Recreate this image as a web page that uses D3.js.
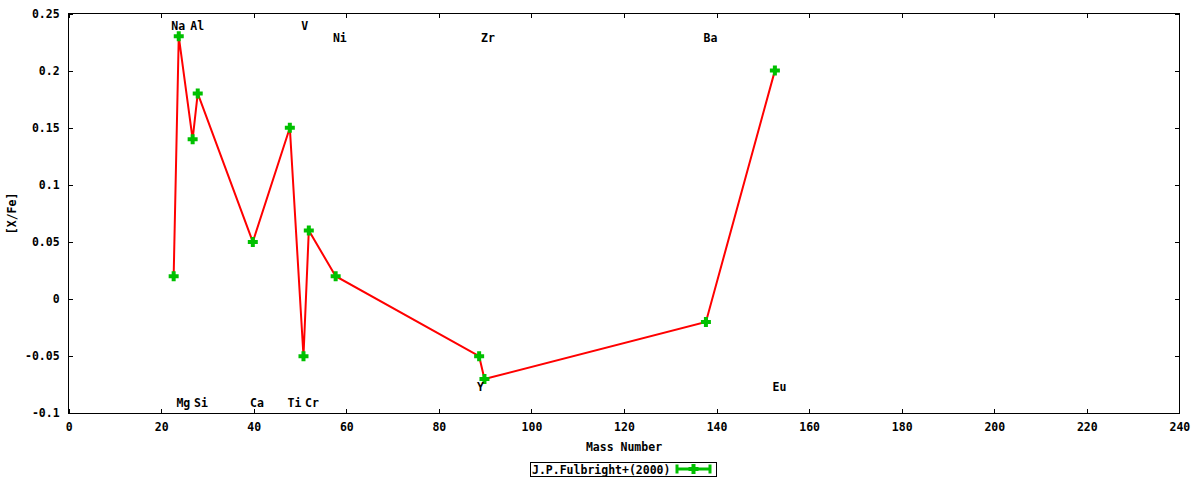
<!DOCTYPE html>
<html>
<head>
<meta charset="utf-8">
<script src="https://cdnjs.cloudflare.com/ajax/libs/d3/7.8.5/d3.min.js"></script>
<style>
  body { margin: 0; background: #fff; }
  svg text { font-family: "DejaVu Sans Mono", "Liberation Mono", monospace; font-weight: bold; font-size: 11.5px; fill: #000; }
</style>
</head>
<body>
<svg id="chart" width="1200" height="480"></svg>
<script>
// abundance points, in plotting order
var masses = [22.7, 23.8, 26.8, 27.9, 39.8, 47.8, 50.75, 51.9, 57.7, 88.7, 89.85, 137.7, 152.6]
var xfe    = [0.02, 0.23, 0.14, 0.18, 0.05, 0.15, -0.05, 0.06, 0.02, -0.05, -0.07, -0.02, 0.20]

// element labels (text, x in mass units, y in [X/Fe] units)
var elements = ['Na', 'Al', 'V', 'Ni', 'Zr', 'Ba', 'Mg', 'Si', 'Ca', 'Ti', 'Cr', 'Y', 'Eu']
var label_x  = [23.7, 27.8, 51.0, 58.6, 90.6, 138.7, 24.8, 28.6, 40.7, 48.8, 52.6, 89.0, 153.6]
var label_y  = [0.239, 0.239, 0.239, 0.2285, 0.2285, 0.2285, -0.091, -0.091, -0.091, -0.091, -0.091, -0.077, -0.077]

var x_ticks = [0, 20, 40, 60, 80, 100, 120, 140, 160, 180, 200, 220, 240]
var y_ticks = [-0.1, -0.05, 0, 0.05, 0.1, 0.15, 0.2, 0.25]
var y_tick_labels = ['-0.1', '-0.05', '0', '0.05', '0.1', '0.15', '0.2', '0.25']

var series_name = 'J.P.Fulbright+(2000)'

var svg = d3.select('#chart')
var margin = {'top': 13.5, 'right': 20.6, 'bottom': 66.7, 'left': 68.6}
var active_width = 1200 - margin.left - margin.right
var active_height = 480 - margin.top - margin.bottom

var g = svg.append('g')
	.attr('transform', 'translate(' + margin.left + ',' + margin.top + ')')

var xscale = d3.scaleLinear().domain([0, 240]).range([0, active_width])
var yscale = d3.scaleLinear().domain([-0.1, 0.25]).range([active_height, 0])

function style_axis(sel) {
	sel.select('.domain').remove()
	sel.selectAll('line').attr('stroke', '#000').attr('shape-rendering', 'crispEdges')
	sel.selectAll('text').attr('fill', '#000')
}

// bottom + top
g.append('g')
	.attr('transform', 'translate(0,' + active_height + ')')
	.call(d3.axisBottom(xscale).tickValues(x_ticks).tickFormat(d3.format('d')).tickSizeInner(-4).tickSizeOuter(0).tickPadding(10))
	.call(style_axis)
	.selectAll('text').attr('font-size', null)
g.append('g')
	.call(d3.axisTop(xscale).tickValues(x_ticks).tickFormat('').tickSizeInner(-4).tickSizeOuter(0))
	.call(style_axis)

// left + right
g.append('g')
	.call(d3.axisLeft(yscale).tickValues(y_ticks).tickFormat(function(d, i) { return y_tick_labels[i] }).tickSizeInner(-4).tickSizeOuter(0).tickPadding(9))
	.call(style_axis)
g.append('g')
	.attr('transform', 'translate(' + active_width + ',0)')
	.call(d3.axisRight(yscale).tickValues(y_ticks).tickFormat('').tickSizeInner(-4).tickSizeOuter(0))
	.call(style_axis)

g.selectAll('.tick text').attr('font-size', null).attr('font-family', null)

// frame
g.append('rect')
	.attr('width', active_width)
	.attr('height', active_height)
	.attr('fill', 'none')
	.attr('stroke', '#000')
	.attr('stroke-width', 1.2)
	.attr('shape-rendering', 'crispEdges')

var data = masses.map(function(m, i) { return {'mass': m, 'xfe': xfe[i]} })

// red connecting line
g.append('path')
	.datum(data)
	.attr('d', d3.line().x(function(d) { return xscale(d.mass) }).y(function(d) { return yscale(d.xfe) }))
	.attr('fill', 'none')
	.attr('stroke', '#ff0000')
	.attr('stroke-width', 2)

// green crosses
var cross = 'M-5,0H5M0,-5V5'
g.append('g')
	.selectAll('.pt')
	.data(data)
	.enter()
	.append('path')
	.attr('class', 'pt')
	.attr('transform', function(d) { return 'translate(' + xscale(d.mass) + ',' + yscale(d.xfe) + ')' })
	.attr('d', cross)
	.attr('stroke', '#00c000')
	.attr('stroke-width', 4)
	.attr('fill', 'none')

// element labels
g.append('g')
	.selectAll('.lab')
	.data(elements)
	.enter()
	.append('text')
	.attr('x', function(d, i) { return xscale(label_x[i]) })
	.attr('y', function(d, i) { return yscale(label_y[i]) })
	.attr('dy', '0.36em')
	.attr('text-anchor', 'middle')
	.text(function(d) { return d })

// axis titles
svg.append('text')
	.attr('x', margin.left + active_width / 2)
	.attr('y', 451)
	.attr('text-anchor', 'middle')
	.text('Mass Number')

svg.append('text')
	.attr('transform', 'translate(16,' + (margin.top + active_height / 2) + ') rotate(-90)')
	.attr('text-anchor', 'middle')
	.text('[X/Fe]')

// legend
var lg = svg.append('g')
lg.append('rect')
	.attr('x', 530.5).attr('y', 462.5).attr('width', 186).attr('height', 13.5)
	.attr('fill', 'none').attr('stroke', '#000').attr('stroke-width', 1)
	.attr('shape-rendering', 'crispEdges')
lg.append('text').attr('x', 532).attr('y', 473.5).text(series_name)
lg.append('path')
	.attr('d', 'M676,469H711M677,464.5V473.5M710,464.5V473.5')
	.attr('stroke', '#00c000').attr('stroke-width', 3).attr('fill', 'none')
lg.append('path')
	.attr('transform', 'translate(693.5,469)')
	.attr('d', cross)
	.attr('stroke', '#00c000').attr('stroke-width', 4).attr('fill', 'none')
</script>
</body>
</html>
